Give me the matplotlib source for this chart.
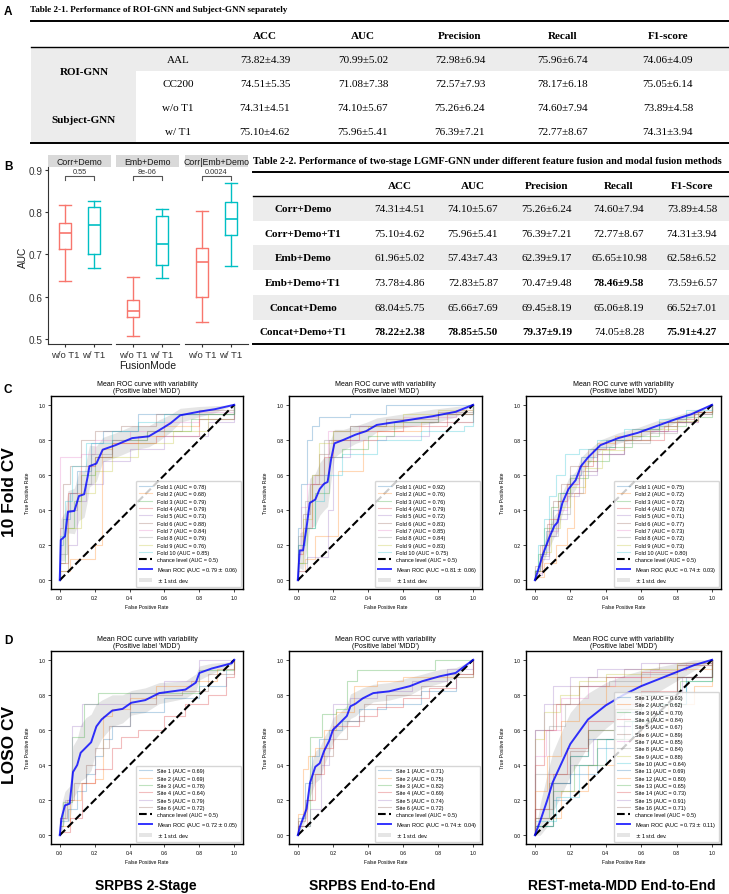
import matplotlib
matplotlib.use('Agg')
import matplotlib.pyplot as plt
import numpy as np
from matplotlib.patches import Rectangle

# ---------------- data ----------------
t1_title = 'Table 2-1. Performance of ROI-GNN and Subject-GNN separately'
t1_groups = ['ROI-GNN', 'Subject-GNN']
t1_sub = ['AAL', 'CC200', 'w/o T1', 'w/ T1']
t1_cols = ['ACC', 'AUC', 'Precision', 'Recall', 'F1-score']
t1_vals = [
    ['73.82±4.39', '70.99±5.02', '72.98±6.94', '75.96±6.74', '74.06±4.09'],
    ['74.51±5.35', '71.08±7.38', '72.57±7.93', '78.17±6.18', '75.05±6.14'],
    ['74.31±4.51', '74.10±5.67', '75.26±6.24', '74.60±7.94', '73.89±4.58'],
    ['75.10±4.62', '75.96±5.41', '76.39±7.21', '72.77±8.67', '74.31±3.94'],
]

t2_title = 'Table 2-2. Performance of two-stage LGMF-GNN under different feature fusion and modal fusion methods'
t2_rows = ['Corr+Demo', 'Corr+Demo+T1', 'Emb+Demo', 'Emb+Demo+T1', 'Concat+Demo', 'Concat+Demo+T1']
t2_cols = ['ACC', 'AUC', 'Precision', 'Recall', 'F1-Score']
t2_vals = [
    ['74.31±4.51', '74.10±5.67', '75.26±6.24', '74.60±7.94', '73.89±4.58'],
    ['75.10±4.62', '75.96±5.41', '76.39±7.21', '72.77±8.67', '74.31±3.94'],
    ['61.96±5.02', '57.43±7.43', '62.39±9.17', '65.65±10.98', '62.58±6.52'],
    ['73.78±4.86', '72.83±5.87', '70.47±9.48', '78.46±9.58', '73.59±6.57'],
    ['68.04±5.75', '65.66±7.69', '69.45±8.19', '65.06±8.19', '66.52±7.01'],
    ['78.22±2.38', '78.85±5.50', '79.37±9.19', '74.05±8.28', '75.91±4.27'],
]
t2_bold = [
    [0, 0, 0, 0, 0], [0, 0, 0, 0, 0], [0, 0, 0, 0, 0],
    [0, 0, 0, 1, 0], [0, 0, 0, 0, 0], [1, 1, 1, 0, 1],
]

facets = ['Corr+Demo', 'Emb+Demo', 'Corr|Emb+Demo']
modes = ['w/o T1', 'w/ T1']
# whislo, q1, median, q3, whishi
box_wo_t1 = [[0.637, 0.713, 0.751, 0.774, 0.818],
             [0.507, 0.552, 0.565, 0.593, 0.647],
             [0.540, 0.600, 0.683, 0.715, 0.804]]
box_w_t1 = [[0.667, 0.700, 0.770, 0.812, 0.827],
            [0.644, 0.674, 0.725, 0.790, 0.808],
            [0.673, 0.746, 0.784, 0.823, 0.868]]
p_values = ['0.55', '8e-06', '0.0024']

# ---- ROC: 10-fold CV ----
c1_auc = [0.78, 0.68, 0.79, 0.79, 0.73, 0.88, 0.84, 0.79, 0.76, 0.85]
c1_fpr = [[0, 0.02, 0.06, 0.10, 0.18, 0.25, 0.45, 0.60, 1.0],
          [0, 0.06, 0.20, 0.24, 0.30, 0.45, 0.60, 0.80, 1.0],
          [0, 0.03, 0.08, 0.12, 0.20, 0.30, 0.50, 0.75, 1.0],
          [0, 0.05, 0.12, 0.20, 0.30, 0.55, 0.80, 1.0],
          [0, 0.05, 0.10, 0.15, 0.25, 0.40, 0.60, 0.85, 1.0],
          [0, 0.02, 0.06, 0.12, 0.20, 0.35, 0.55, 0.80, 1.0],
          [0, 0.08, 0.12, 0.20, 0.40, 0.60, 0.80, 1.0],
          [0, 0.04, 0.10, 0.18, 0.30, 0.50, 0.70, 1.0],
          [0, 0.05, 0.12, 0.20, 0.30, 0.45, 0.65, 0.85, 1.0],
          [0, 0.03, 0.07, 0.15, 0.30, 0.45, 0.60, 1.0]]
c1_tpr = [[0.20, 0.35, 0.50, 0.62, 0.78, 0.85, 0.95, 0.95, 1.0],
          [0.05, 0.12, 0.20, 0.75, 0.78, 0.82, 0.88, 0.95, 1.0],
          [0.10, 0.30, 0.45, 0.60, 0.70, 0.80, 0.85, 0.92, 1.0],
          [0.10, 0.50, 0.65, 0.70, 0.78, 0.82, 0.92, 1.0],
          [0.05, 0.20, 0.45, 0.55, 0.68, 0.75, 0.82, 0.90, 1.0],
          [0.30, 0.55, 0.65, 0.80, 0.85, 0.88, 0.95, 0.97, 1.0],
          [0.70, 0.70, 0.72, 0.80, 0.85, 0.90, 0.96, 1.0],
          [0.15, 0.40, 0.55, 0.72, 0.80, 0.85, 0.95, 1.0],
          [0.05, 0.30, 0.50, 0.62, 0.70, 0.78, 0.85, 0.95, 1.0],
          [0.25, 0.45, 0.65, 0.78, 0.85, 0.90, 0.95, 1.0]]
c1_mean_fpr = [0, 0.006, 0.03, 0.047, 0.084, 0.11, 0.14, 0.16, 0.17, 0.21, 0.246, 0.32, 0.415, 0.51, 0.57, 0.635, 0.69, 0.795, 0.89, 1.0]
c1_mean_tpr = [0, 0.23, 0.25, 0.39, 0.395, 0.48, 0.49, 0.59, 0.65, 0.665, 0.744, 0.77, 0.81, 0.82, 0.855, 0.895, 0.94, 0.96, 0.975, 1.0]
c1_std = [0, 0.12, 0.14, 0.12, 0.13, 0.14, 0.13, 0.13, 0.12, 0.10, 0.07, 0.07, 0.07, 0.06, 0.06, 0.05, 0.04, 0.03, 0.02, 0]
c1_mean_auc, c1_std_auc = 0.79, 0.06

c2_auc = [0.92, 0.76, 0.76, 0.79, 0.72, 0.83, 0.85, 0.84, 0.83, 0.75]
c2_fpr = [[0, 0.02, 0.05, 0.08, 0.12, 0.30, 0.50, 1.0],
          [0, 0.04, 0.10, 0.23, 0.37, 0.45, 0.70, 1.0],
          [0, 0.05, 0.10, 0.18, 0.25, 0.40, 0.55, 0.80, 1.0],
          [0, 0.03, 0.08, 0.15, 0.20, 0.35, 0.60, 0.85, 1.0],
          [0, 0.05, 0.17, 0.20, 0.30, 0.50, 0.75, 1.0],
          [0, 0.03, 0.07, 0.12, 0.18, 0.30, 0.50, 0.80, 1.0],
          [0, 0.02, 0.05, 0.10, 0.17, 0.35, 0.60, 0.90, 1.0],
          [0, 0.04, 0.08, 0.15, 0.20, 0.30, 0.50, 0.80, 1.0],
          [0, 0.03, 0.08, 0.12, 0.20, 0.40, 0.60, 0.80, 1.0],
          [0, 0.04, 0.10, 0.15, 0.25, 0.45, 0.70, 0.95, 1.0]]
c2_tpr = [[0.30, 0.55, 0.80, 0.88, 0.93, 0.95, 1.0, 1.0],
          [0.05, 0.12, 0.25, 0.62, 0.80, 0.85, 0.90, 1.0],
          [0.10, 0.30, 0.50, 0.70, 0.75, 0.82, 0.90, 0.95, 1.0],
          [0.15, 0.30, 0.55, 0.70, 0.80, 0.85, 0.88, 0.95, 1.0],
          [0.05, 0.13, 0.40, 0.70, 0.80, 0.82, 0.90, 1.0],
          [0.20, 0.38, 0.55, 0.72, 0.80, 0.88, 0.92, 0.96, 1.0],
          [0.15, 0.42, 0.55, 0.60, 0.85, 0.88, 0.93, 0.97, 1.0],
          [0.25, 0.45, 0.60, 0.80, 0.85, 0.88, 0.90, 0.95, 1.0],
          [0.10, 0.35, 0.60, 0.78, 0.85, 0.88, 0.95, 0.97, 1.0],
          [0.20, 0.30, 0.45, 0.60, 0.72, 0.80, 0.85, 0.88, 1.0]]
c2_mean_fpr = [0, 0.011, 0.03, 0.05, 0.068, 0.10, 0.125, 0.15, 0.17, 0.19, 0.209, 0.26, 0.33, 0.39, 0.45, 0.58, 0.77, 0.90, 1.0]
c2_mean_tpr = [0, 0.17, 0.17, 0.30, 0.44, 0.46, 0.52, 0.55, 0.56, 0.69, 0.78, 0.80, 0.83, 0.85, 0.885, 0.905, 0.935, 0.96, 1.0]
c2_std = [0, 0.10, 0.11, 0.13, 0.14, 0.15, 0.15, 0.15, 0.14, 0.12, 0.08, 0.06, 0.05, 0.05, 0.04, 0.04, 0.04, 0.03, 0]
c2_mean_auc, c2_std_auc = 0.81, 0.06

c3_auc = [0.75, 0.72, 0.72, 0.72, 0.71, 0.77, 0.73, 0.72, 0.73, 0.80]
c3_fpr = [[0, 0.03, 0.06, 0.10, 0.14, 0.20, 0.26, 0.35, 0.45, 0.60, 0.75, 0.90, 1.0],
          [0, 0.05, 0.12, 0.18, 0.22, 0.28, 0.35, 0.45, 0.60, 0.75, 0.90, 1.0],
          [0, 0.02, 0.05, 0.09, 0.13, 0.20, 0.30, 0.42, 0.55, 0.70, 0.85, 1.0],
          [0, 0.04, 0.08, 0.13, 0.18, 0.25, 0.33, 0.45, 0.73, 0.80, 0.90, 1.0],
          [0, 0.04, 0.08, 0.12, 0.18, 0.25, 0.35, 0.50, 0.65, 0.80, 0.92, 1.0],
          [0, 0.03, 0.07, 0.10, 0.15, 0.20, 0.30, 0.40, 0.55, 0.70, 0.85, 1.0],
          [0, 0.04, 0.08, 0.13, 0.18, 0.25, 0.35, 0.50, 0.65, 0.80, 0.92, 1.0],
          [0, 0.03, 0.08, 0.13, 0.20, 0.27, 0.35, 0.50, 0.65, 0.80, 0.90, 1.0],
          [0, 0.04, 0.09, 0.14, 0.20, 0.28, 0.38, 0.50, 0.65, 0.80, 0.92, 1.0],
          [0, 0.02, 0.05, 0.08, 0.12, 0.17, 0.25, 0.35, 0.50, 0.70, 0.85, 1.0]]
c3_tpr = [[0.05, 0.15, 0.28, 0.40, 0.50, 0.60, 0.70, 0.76, 0.80, 0.85, 0.90, 0.96, 1.0],
          [0.02, 0.10, 0.20, 0.30, 0.50, 0.68, 0.78, 0.82, 0.85, 0.90, 0.96, 1.0],
          [0.05, 0.15, 0.30, 0.42, 0.50, 0.58, 0.68, 0.76, 0.82, 0.88, 0.93, 1.0],
          [0.05, 0.20, 0.35, 0.45, 0.55, 0.65, 0.75, 0.80, 0.88, 0.92, 0.96, 1.0],
          [0.03, 0.12, 0.25, 0.35, 0.48, 0.60, 0.72, 0.80, 0.85, 0.90, 0.96, 1.0],
          [0.08, 0.20, 0.32, 0.45, 0.55, 0.65, 0.75, 0.80, 0.86, 0.90, 0.95, 1.0],
          [0.04, 0.15, 0.28, 0.40, 0.50, 0.62, 0.72, 0.80, 0.85, 0.90, 0.96, 1.0],
          [0.05, 0.14, 0.25, 0.38, 0.50, 0.62, 0.72, 0.78, 0.84, 0.90, 0.95, 1.0],
          [0.05, 0.16, 0.30, 0.42, 0.53, 0.64, 0.74, 0.80, 0.86, 0.91, 0.96, 1.0],
          [0.06, 0.20, 0.35, 0.48, 0.60, 0.72, 0.75, 0.80, 0.86, 0.92, 0.97, 1.0]]
c3_mean_fpr = [0, 0.025, 0.05, 0.08, 0.11, 0.128, 0.155, 0.19, 0.23, 0.26, 0.30, 0.37, 0.47, 0.58, 0.69, 0.80, 0.88, 1.0]
c3_mean_tpr = [0, 0.08, 0.16, 0.24, 0.31, 0.33, 0.44, 0.52, 0.57, 0.65, 0.70, 0.77, 0.81, 0.84, 0.88, 0.92, 0.945, 1.0]
c3_std = [0, 0.03, 0.05, 0.06, 0.06, 0.06, 0.06, 0.06, 0.05, 0.05, 0.04, 0.03, 0.03, 0.03, 0.03, 0.02, 0.02, 0]
c3_mean_auc, c3_std_auc = 0.74, 0.03

# ---- ROC: LOSO CV ----
d1_auc = [0.69, 0.69, 0.78, 0.64, 0.79, 0.72]
d1_fpr = [[0, 0.05, 0.10, 0.15, 0.20, 0.25, 0.30, 0.40, 0.60, 0.80, 0.95, 1.0],
          [0, 0.06, 0.12, 0.20, 0.25, 0.30, 0.40, 0.55, 0.75, 0.90, 1.0],
          [0, 0.02, 0.07, 0.14, 0.22, 0.80, 1.0],
          [0, 0.06, 0.13, 0.20, 0.30, 0.35, 0.45, 0.60, 0.72, 0.85, 0.95, 1.0],
          [0, 0.03, 0.07, 0.13, 0.22, 0.40, 0.60, 0.80, 1.0],
          [0, 0.04, 0.08, 0.15, 0.20, 0.28, 0.40, 0.55, 0.70, 0.85, 1.0]]
d1_tpr = [[0.08, 0.15, 0.25, 0.35, 0.45, 0.55, 0.62, 0.70, 0.78, 0.85, 0.95, 1.0],
          [0.05, 0.20, 0.30, 0.32, 0.68, 0.72, 0.78, 0.85, 0.88, 0.95, 1.0],
          [0.05, 0.19, 0.56, 0.75, 0.81, 0.94, 1.0],
          [0.02, 0.10, 0.30, 0.38, 0.50, 0.56, 0.60, 0.68, 0.75, 0.80, 0.90, 1.0],
          [0.10, 0.20, 0.62, 0.75, 0.75, 0.81, 0.88, 1.0, 1.0],
          [0.10, 0.20, 0.30, 0.40, 0.50, 0.62, 0.75, 0.80, 0.82, 0.92, 1.0]]
d1_mean_fpr = [0, 0.01, 0.03, 0.057, 0.076, 0.10, 0.12, 0.15, 0.18, 0.21, 0.24, 0.30, 0.36, 0.41, 0.49, 0.57, 0.72, 0.78, 0.80, 0.87, 0.985, 1.0]
d1_mean_tpr = [0, 0.096, 0.17, 0.18, 0.36, 0.40, 0.47, 0.50, 0.53, 0.62, 0.66, 0.71, 0.72, 0.755, 0.77, 0.81, 0.83, 0.87, 0.925, 0.95, 0.98, 1.0]
d1_std = [0, 0.08, 0.08, 0.10, 0.15, 0.15, 0.16, 0.17, 0.16, 0.13, 0.11, 0.09, 0.08, 0.07, 0.07, 0.06, 0.05, 0.05, 0.04, 0.03, 0.01, 0]
d1_mean_auc, d1_std_auc = 0.72, 0.05

d2_auc = [0.71, 0.75, 0.82, 0.69, 0.74, 0.72]
d2_fpr = [[0, 0.04, 0.08, 0.12, 0.18, 0.25, 0.35, 0.50, 0.70, 0.90, 1.0],
          [0, 0.03, 0.06, 0.10, 0.15, 0.22, 0.32, 0.45, 0.60, 1.0],
          [0, 0.07, 0.14, 0.22, 0.28, 0.34, 0.78, 1.0],
          [0, 0.05, 0.10, 0.15, 0.20, 0.35, 0.45, 0.60, 0.75, 0.90, 1.0],
          [0, 0.07, 0.13, 0.18, 0.20, 0.30, 0.45, 0.65, 0.85, 1.0],
          [0, 0.04, 0.08, 0.13, 0.20, 0.28, 0.38, 0.50, 0.70, 0.85, 1.0]]
d2_tpr = [[0.10, 0.30, 0.45, 0.55, 0.60, 0.65, 0.72, 0.75, 0.82, 0.90, 1.0],
          [0.12, 0.38, 0.45, 0.50, 0.60, 0.70, 0.85, 0.88, 0.90, 1.0],
          [0.05, 0.56, 0.69, 0.72, 0.88, 0.94, 1.0, 1.0],
          [0.05, 0.20, 0.35, 0.50, 0.62, 0.68, 0.73, 0.78, 0.84, 0.92, 1.0],
          [0.05, 0.15, 0.40, 0.55, 0.75, 0.78, 0.82, 0.88, 0.95, 1.0],
          [0.08, 0.20, 0.35, 0.45, 0.55, 0.65, 0.75, 0.80, 0.85, 0.92, 1.0]]
d2_mean_fpr = [0, 0.013, 0.05, 0.07, 0.10, 0.125, 0.15, 0.18, 0.20, 0.24, 0.28, 0.30, 0.33, 0.37, 0.43, 0.52, 0.64, 0.71, 0.81, 0.90, 1.0]
d2_mean_tpr = [0, 0.05, 0.15, 0.30, 0.39, 0.41, 0.48, 0.54, 0.60, 0.64, 0.68, 0.735, 0.75, 0.78, 0.81, 0.82, 0.85, 0.878, 0.906, 0.925, 1.0]
d2_std = [0, 0.03, 0.05, 0.08, 0.09, 0.09, 0.08, 0.07, 0.07, 0.06, 0.06, 0.07, 0.07, 0.06, 0.05, 0.05, 0.05, 0.04, 0.04, 0.03, 0]
d2_mean_auc, d2_std_auc = 0.74, 0.04

d3_auc = [0.63, 0.62, 0.70, 0.84, 0.67, 0.89, 0.85, 0.84, 0.88, 0.64, 0.69, 0.80, 0.65, 0.73, 0.91, 0.71]
d3_fpr = [[0, 0.10, 0.20, 0.35, 0.50, 0.70, 0.85, 1.0],
          [0, 0.15, 0.30, 0.45, 0.60, 0.75, 0.90, 1.0],
          [0, 0.08, 0.20, 0.30, 0.45, 0.60, 0.80, 1.0],
          [0, 0.05, 0.12, 0.25, 0.40, 0.60, 0.80, 1.0],
          [0, 0.10, 0.20, 0.33, 0.50, 0.67, 0.83, 1.0],
          [0, 0.10, 0.20, 0.30, 0.50, 0.70, 1.0],
          [0, 0.06, 0.15, 0.30, 0.45, 0.65, 0.85, 1.0],
          [0, 0.08, 0.17, 0.25, 0.42, 0.60, 0.80, 1.0],
          [0, 0.05, 0.14, 0.25, 0.40, 0.60, 0.80, 1.0],
          [0, 0.12, 0.25, 0.40, 0.55, 0.70, 0.85, 1.0],
          [0, 0.10, 0.20, 0.30, 0.45, 0.60, 0.80, 1.0],
          [0, 0.07, 0.15, 0.25, 0.40, 0.60, 0.80, 1.0],
          [0, 0.10, 0.22, 0.35, 0.50, 0.65, 0.82, 1.0],
          [0, 0.08, 0.18, 0.30, 0.45, 0.60, 0.80, 1.0],
          [0, 0.05, 0.10, 0.20, 0.35, 0.60, 1.0],
          [0, 0.10, 0.20, 0.30, 0.45, 0.60, 0.80, 1.0]]
d3_tpr = [[0.05, 0.20, 0.35, 0.50, 0.65, 0.75, 0.90, 1.0],
          [0.10, 0.25, 0.40, 0.55, 0.65, 0.75, 0.85, 1.0],
          [0.10, 0.30, 0.45, 0.60, 0.72, 0.80, 0.90, 1.0],
          [0.40, 0.60, 0.75, 0.85, 0.90, 0.93, 0.97, 1.0],
          [0.10, 0.30, 0.40, 0.55, 0.70, 0.80, 0.90, 1.0],
          [0.60, 0.75, 0.85, 0.90, 0.95, 0.98, 1.0],
          [0.45, 0.60, 0.78, 0.85, 0.90, 0.94, 0.98, 1.0],
          [0.35, 0.62, 0.75, 0.85, 0.88, 0.92, 0.97, 1.0],
          [0.55, 0.70, 0.80, 0.88, 0.92, 0.95, 0.98, 1.0],
          [0.08, 0.22, 0.40, 0.55, 0.65, 0.75, 0.88, 1.0],
          [0.05, 0.30, 0.45, 0.55, 0.70, 0.80, 0.90, 1.0],
          [0.25, 0.45, 0.65, 0.75, 0.85, 0.90, 0.95, 1.0],
          [0.05, 0.25, 0.40, 0.55, 0.65, 0.75, 0.88, 1.0],
          [0.15, 0.35, 0.50, 0.65, 0.75, 0.82, 0.90, 1.0],
          [0.60, 0.75, 0.85, 0.90, 0.95, 0.98, 1.0],
          [0.15, 0.35, 0.48, 0.60, 0.72, 0.80, 0.90, 1.0]]
d3_mean_fpr = [0, 0.03, 0.07, 0.10, 0.15, 0.20, 0.25, 0.30, 0.40, 0.50, 0.60, 0.70, 0.80, 0.90, 1.0]
d3_mean_tpr = [0, 0.08, 0.20, 0.30, 0.41, 0.52, 0.59, 0.66, 0.74, 0.80, 0.85, 0.89, 0.93, 0.97, 1.0]
d3_std = [0, 0.10, 0.15, 0.17, 0.18, 0.18, 0.17, 0.15, 0.13, 0.11, 0.09, 0.07, 0.05, 0.03, 0]
d3_mean_auc, d3_std_auc = 0.73, 0.11

bottom_titles = ['SRPBS 2-Stage', 'SRPBS End-to-End', 'REST-meta-MDD End-to-End']
row_titles = ['10 Fold CV', 'LOSO CV']

# ---------------- figure ----------------
W, H = 729, 895
fig = plt.figure(figsize=(W / 100, H / 100), dpi=100)
SERIF = 'Liberation Serif'
SANS = 'Liberation Sans'


def rect(l, t, r, b):
    return [l / W, 1 - b / H, (r - l) / W, (b - t) / H]


ov = fig.add_axes([0, 0, 1, 1])
ov.set_xlim(0, W)
ov.set_ylim(H, 0)
ov.axis('off')

GRAY = '#ececec'
# ---- Table 2-1 ----
ov.text(4, 12, 'A', fontsize=8.5, fontweight='bold', family=SANS, va='center')
ov.text(30, 10, t1_title, fontsize=6.6, fontweight='bold', family=SERIF, va='center')
L1, R1 = 31, 729
top1, hdr1, rh1 = 22, 48, 24
ov.add_patch(Rectangle((L1, hdr1), R1 - L1, rh1, color=GRAY, lw=0))
ov.add_patch(Rectangle((L1, hdr1), 136 - L1, 4 * rh1, color=GRAY, lw=0))
ov.plot([L1, R1], [top1, top1], color='k', lw=1.4)
ov.plot([L1, R1], [hdr1, hdr1], color='k', lw=1.0)
ov.plot([L1, R1], [hdr1 + 4 * rh1, hdr1 + 4 * rh1], color='k', lw=1.4)
t1_colx = [265, 363, 460, 563, 668]
for x, c in zip(t1_colx, t1_cols):
    ov.text(x, (top1 + hdr1) / 2 + 1, c, fontsize=8, fontweight='bold', family=SERIF, ha='center', va='center')
for g, name in enumerate(t1_groups):
    ov.text(84, hdr1 + rh1 * (2 * g + 1), name, fontsize=8, fontweight='bold', family=SERIF, ha='center', va='center')
for i, s in enumerate(t1_sub):
    yc = hdr1 + rh1 * (i + 0.5)
    ov.text(178, yc, s, fontsize=8, family=SERIF, ha='center', va='center')
    for x, v in zip(t1_colx, t1_vals[i]):
        ov.text(x, yc, v, fontsize=8, family=SERIF, ha='center', va='center')

# ---- Table 2-2 ----
L2, R2 = 253, 729
ov.text(L2, 161, t2_title, fontsize=7.4, fontweight='bold', family=SERIF, va='center')
top2, hdr2, rh2 = 173, 197, 24.7
for i in range(0, len(t2_rows), 2):
    ov.add_patch(Rectangle((L2, hdr2 + i * rh2), R2 - L2, rh2, color=GRAY, lw=0))
ov.plot([L2, R2], [top2, top2], color='k', lw=1.4)
ov.plot([L2, R2], [hdr2, hdr2], color='k', lw=1.0)
ov.plot([L2, R2], [hdr2 + 6 * rh2, hdr2 + 6 * rh2], color='k', lw=1.4)
t2_colx = [400, 473, 547, 619, 692]
for x, c in zip(t2_colx, t2_cols):
    ov.text(x, (top2 + hdr2) / 2 + 1, c, fontsize=8, fontweight='bold', family=SERIF, ha='center', va='center')
for i, r in enumerate(t2_rows):
    yc = hdr2 + rh2 * (i + 0.5)
    ov.text(303, yc, r, fontsize=8, fontweight='bold', family=SERIF, ha='center', va='center')
    for j, (x, v) in enumerate(zip(t2_colx, t2_vals[i])):
        ov.text(x, yc, v, fontsize=8, family=SERIF, ha='center', va='center',
                fontweight='bold' if t2_bold[i][j] else 'normal')

# ---- Box plot panel B ----
ov.text(4, 167, 'B', fontsize=8.5, fontweight='bold', family=SANS, va='center')
facet_px = [(48, 111), (116, 179), (185, 248)]
RED, BLUE = '#F8766D', '#00BFC4'
ylo, yhi = 0.488, 0.907
for k, (l, r) in enumerate(facet_px):
    ov.add_patch(Rectangle((l, 156), r - l, 12, color='#d9d9d9', lw=0))
    ov.text((l + r) / 2, 162.5, facets[k], fontsize=6.3, family=SANS, ha='center', va='center', color='#1a1a1a')
    ax = fig.add_axes(rect(l, 168, r, 345))
    stats = []
    for vals in (box_wo_t1[k], box_w_t1[k]):
        stats.append(dict(whislo=vals[0], q1=vals[1], med=vals[2], q3=vals[3], whishi=vals[4]))
    for pos, st, col in ((1, stats[0], RED), (2, stats[1], BLUE)):
        ax.bxp([st], positions=[pos], widths=0.4, showfliers=False, capwidths=[0.4],
               boxprops=dict(color=col, lw=1.0), whiskerprops=dict(color=col, lw=1.0),
               capprops=dict(color=col, lw=1.0), medianprops=dict(color=col, lw=1.2))
    ax.set_xlim(0.4, 2.6)
    ax.set_ylim(ylo, yhi)
    ax.set_xticks([1, 2])
    ax.set_xticklabels(modes, fontsize=6.8, family=SANS, color='#333333')
    ax.plot([1, 1, 2, 2], [0.876, 0.886, 0.886, 0.876], color='#555555', lw=0.8)
    ax.text(1.5, 0.889, p_values[k], fontsize=5.3, family=SANS, ha='center', va='bottom', color='#333333')
    for s in ('top', 'right'):
        ax.spines[s].set_visible(False)
    ax.spines['bottom'].set_color('#333333')
    ax.tick_params(axis='x', length=2.5, color='#333333', pad=2)
    if k == 0:
        ax.set_yticks([0.5, 0.6, 0.7, 0.8, 0.9])
        ax.set_yticklabels(['0.5', '0.6', '0.7', '0.8', '0.9'], fontsize=7.2, family=SANS, color='#333333')
        ax.tick_params(axis='y', length=2.5, color='#333333', pad=1.5)
        ax.spines['left'].set_color('#333333')
    else:
        ax.set_yticks([])
        ax.spines['left'].set_visible(False)
    ax.patch.set_alpha(0)
ov.text(23, 257, 'AUC', fontsize=7.3, family=SANS, rotation=90, ha='center', va='center', color='#1a1a1a')
ov.text(148, 366, 'FusionMode', fontsize=7.5, family=SANS, ha='center', va='center', color='#1a1a1a')

# ---- ROC panels ----
colors = plt.rcParams['axes.prop_cycle'].by_key()['color']
panels = [
    ('Fold', c1_fpr, c1_tpr, c1_auc, c1_mean_fpr, c1_mean_tpr, c1_std, c1_mean_auc, c1_std_auc, (51, 397, 243, 590)),
    ('Fold', c2_fpr, c2_tpr, c2_auc, c2_mean_fpr, c2_mean_tpr, c2_std, c2_mean_auc, c2_std_auc, (289, 397, 482, 590)),
    ('Fold', c3_fpr, c3_tpr, c3_auc, c3_mean_fpr, c3_mean_tpr, c3_std, c3_mean_auc, c3_std_auc, (526, 397, 721, 590)),
    ('Site', d1_fpr, d1_tpr, d1_auc, d1_mean_fpr, d1_mean_tpr, d1_std, d1_mean_auc, d1_std_auc, (51, 652, 243, 845)),
    ('Site', d2_fpr, d2_tpr, d2_auc, d2_mean_fpr, d2_mean_tpr, d2_std, d2_mean_auc, d2_std_auc, (289, 652, 482, 845)),
    ('Site', d3_fpr, d3_tpr, d3_auc, d3_mean_fpr, d3_mean_tpr, d3_std, d3_mean_auc, d3_std_auc, (526, 652, 721, 845)),
]
FS = 3.6
for (pref, fprs, tprs, aucs, mf, mt, sd, mauc, sauc, box) in panels:
    ax = fig.add_axes(rect(*box))
    for i, (f, t, a) in enumerate(zip(fprs, tprs, aucs)):
        ax.step([0] + f, [0] + t, where='post', color=colors[i % 10], alpha=0.3, lw=0.8,
                label=f'{pref} {i + 1} (AUC = {a:.2f})')
    ax.plot([0, 1], [0, 1], 'k--', lw=1.5, label='chance level (AUC = 0.5)')
    mf_a, mt_a, sd_a = np.array(mf), np.array(mt), np.array(sd)
    ax.plot(mf_a, mt_a, color='b', lw=1.4, alpha=0.8,
            label=f'Mean ROC (AUC = {mauc:.2f} $\\pm$ {sauc:.2f})')
    ax.fill_between(mf_a, np.maximum(mt_a - sd_a, 0), np.minimum(mt_a + sd_a, 1),
                    color='grey', alpha=0.2, lw=0, label=r'$\pm$ 1 std. dev.')
    ax.set_xlim(-0.05, 1.05)
    ax.set_ylim(-0.05, 1.05)
    ticks = [0.0, 0.2, 0.4, 0.6, 0.8, 1.0]
    ax.set_xticks(ticks)
    ax.set_yticks(ticks)
    ax.set_xticklabels([f'{v:.1f}' for v in ticks], fontsize=FS, family=SANS)
    ax.set_yticklabels([f'{v:.1f}' for v in ticks], fontsize=FS, family=SANS)
    ax.tick_params(length=2, width=0.5, pad=2)
    ax.set_xlabel('False Positive Rate', fontsize=FS, family=SANS, labelpad=3)
    ax.set_ylabel('True Positive Rate', fontsize=FS, family=SANS, labelpad=6)
    ax.set_title("Mean ROC curve with variability\n(Positive label 'MDD')", fontsize=5.0,
                 family=SANS, pad=3, linespacing=1.05)
    for s in ax.spines.values():
        s.set_linewidth(1.0)
    ax.legend(loc='lower right', prop={'family': SANS, 'size': 4.0}, labelspacing=0.42,
              handlelength=2.4, borderpad=0.5, framealpha=0.8, borderaxespad=0.4)

ov.text(4, 390, 'C', fontsize=8.5, fontweight='bold', family=SANS, va='center')
ov.text(4, 641, 'D', fontsize=8.5, fontweight='bold', family=SANS, va='center')
ov.text(10, 492, row_titles[0], fontsize=12.5, fontweight='bold', family=SANS, rotation=90, ha='center', va='center')
ov.text(10, 745, row_titles[1], fontsize=12.5, fontweight='bold', family=SANS, rotation=90, ha='center', va='center')
for x, t in zip([146, 372, 622], bottom_titles):
    ov.text(x, 886, t, fontsize=10, fontweight='bold', family=SANS, ha='center', va='center')

fig.savefig('out.png', dpi=100)
